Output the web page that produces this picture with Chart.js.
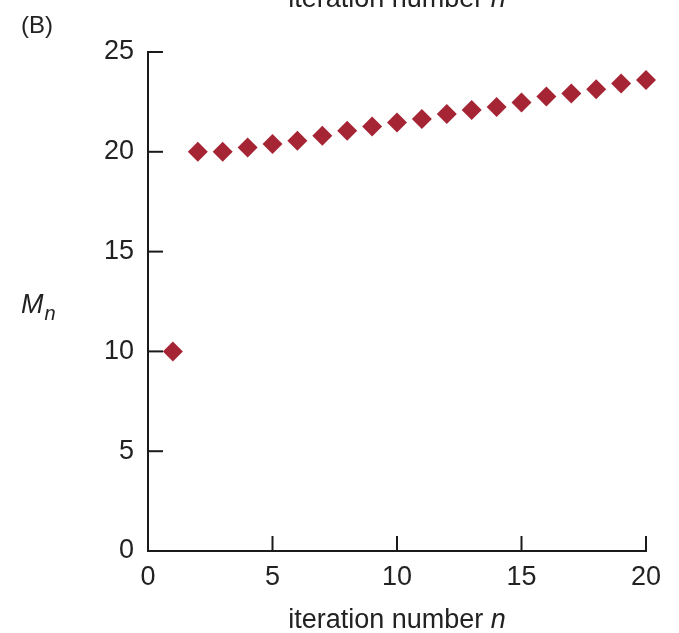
<!DOCTYPE html>
<html>
<head>
<meta charset="utf-8">
<script src="https://cdn.jsdelivr.net/npm/chart.js@4"></script>
<style>
html,body{margin:0;padding:0;background:#fff;}
#wrap{width:679px;height:633px;}
</style>
</head>
<body>
<div id="wrap"><canvas id="c" width="679" height="633"></canvas></div>
<script>
// Data
const iterations = [1,2,3,4,5,6,7,8,9,10,11,12,13,14,15,16,17,18,19,20];
const Mn = [10,20,20,20.22,20.39,20.55,20.8,21.05,21.27,21.47,21.64,21.89,22.1,22.25,22.47,22.77,22.92,23.14,23.42,23.6];
const xTicks = [0,5,10,15,20];
const yTicks = [0,5,10,15,20,25];
const xTitle = 'iteration number ';
const xTitleVar = 'n';
const yTitleVar = 'M';
const yTitleSub = 'n';
const panelLabel = '(B)';

const FONT = '"Liberation Sans", Arial, sans-serif';
const TEXT = '#222';
const AXIS = '#1a1a1a';
const MARK = '#a52535';

const annot = {
  id: 'annot',
  afterDraw(chart) {
    const ctx = chart.ctx;
    const xs = chart.scales.x, ys = chart.scales.y;
    ctx.save();
    // inward ticks
    ctx.strokeStyle = AXIS;
    ctx.lineWidth = 2;
    const L = 15;
    xTicks.forEach(v => {
      if (v === xs.min) return;
      const px = xs.getPixelForValue(v);
      ctx.beginPath();
      ctx.moveTo(px, ys.bottom);
      ctx.lineTo(px, ys.bottom - L);
      ctx.stroke();
    });
    yTicks.forEach(v => {
      if (v === ys.min) return;
      const py = ys.getPixelForValue(v);
      ctx.beginPath();
      ctx.moveTo(xs.left, py);
      ctx.lineTo(xs.left + L, py);
      ctx.stroke();
    });
    ctx.fillStyle = TEXT;
    ctx.textBaseline = 'alphabetic';
    // x title (bottom) and cropped one at top
    const drawXTitle = (y) => {
      ctx.font = '27px ' + FONT;
      const w1 = ctx.measureText(xTitle).width;
      ctx.font = 'italic 27px ' + FONT;
      const w2 = ctx.measureText(xTitleVar).width;
      const cx = (xs.left + xs.right) / 2;
      let x0 = cx - (w1 + w2) / 2;
      ctx.textAlign = 'left';
      ctx.font = '27px ' + FONT;
      ctx.fillText(xTitle, x0, y);
      ctx.font = 'italic 27px ' + FONT;
      ctx.fillText(xTitleVar, x0 + w1, y);
    };
    drawXTitle(628);
    drawXTitle(7);
    // y title M_n
    ctx.textAlign = 'left';
    ctx.font = 'italic 27px ' + FONT;
    ctx.fillText(yTitleVar, 21, 313);
    const wm = ctx.measureText(yTitleVar).width;
    ctx.font = 'italic 20px ' + FONT;
    ctx.fillText(yTitleSub, 21 + wm + 1, 320);
    // panel label
    ctx.font = '24px ' + FONT;
    ctx.fillText(panelLabel, 21, 33);
    ctx.restore();
  }
};

new Chart(document.getElementById('c'), {
  type: 'scatter',
  data: {
    datasets: [{
      data: iterations.map((n, i) => ({x: n, y: Mn[i]})),
      pointStyle: 'rectRot',
      pointRadius: 10,
      pointHoverRadius: 10,
      backgroundColor: MARK,
      borderColor: MARK,
      borderWidth: 0,
      clip: false
    }]
  },
  options: {
    responsive: false,
    animation: false,
    events: [],
    layout: { padding: { top: 52, right: 33, left: 0, bottom: 0 } },
    plugins: { legend: { display: false }, tooltip: { enabled: false } },
    scales: {
      x: {
        type: 'linear', min: 0, max: 20,
        afterBuildTicks: s => { s.ticks = xTicks.map(v => ({value: v})); },
        afterFit: s => { s.height = 82; },
        grid: { display: true, drawOnChartArea: false, drawTicks: false },
        border: { display: true, color: AXIS, width: 2 },
        ticks: { color: TEXT, font: { family: FONT, size: 27 }, padding: 10, maxRotation: 0 }
      },
      y: {
        type: 'linear', min: 0, max: 25,
        afterBuildTicks: s => { s.ticks = yTicks.map(v => ({value: v})); },
        afterFit: s => { s.width = 148; },
        grid: { display: true, drawOnChartArea: false, drawTicks: false },
        border: { display: true, color: AXIS, width: 2 },
        ticks: { color: TEXT, font: { family: FONT, size: 27 }, padding: 14 }
      }
    }
  },
  plugins: [annot]
});
</script>
</body>
</html>
